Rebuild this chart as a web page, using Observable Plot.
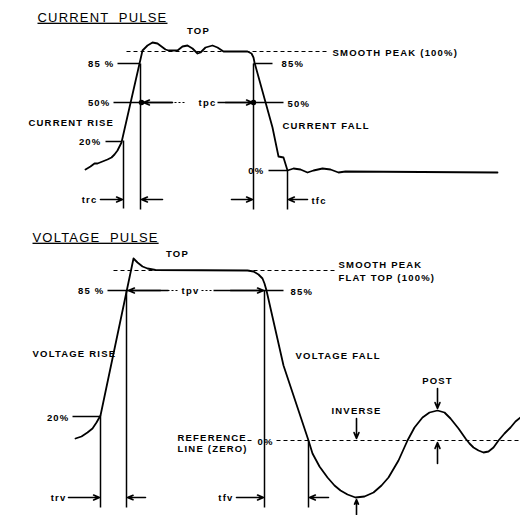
<!DOCTYPE html>
<html><head><meta charset="utf-8">
<script src="https://cdn.jsdelivr.net/npm/d3@7"></script>
<script src="https://cdn.jsdelivr.net/npm/@observablehq/plot@0.6"></script>
<style>
body{margin:0;background:#fff}
svg text{letter-spacing:1.2px}
</style>
</head><body><div id="chart"></div>
<script>
// Diagram units: x runs 0–520 left→right, y runs 0–515 top→bottom.
const currentWave = [[85,169],[90,166],[94,163],[97,163],[102,161],[107,159],[111,157],[114,154],[117,150],[119,146],[121,142],[142,50],[147,45],[152,42],[157,43],[161,46],[165,49],[168,50],[177,50],[182,46],[187,45],[192,48],[197,53],[200,52],[205,47],[212,45],[217,47],[223,51],[247,51],[251,53],[253,57],[254,62],[272,127],[278,156],[283,157],[287,170],[293,168],[300,169],[307,172],[313,170],[322,168],[330,169],[338,172],[345,171],[497,172]];
const voltageWave = [[75,438],[81,436],[87,432],[92,428],[96,422],[100,415],[133,258],[137,262],[142,266],[147,268],[155,269.5],[247,270],[253,271],[258,274],[262,278],[264,283],[266,290],[283,365],[303,425],[308,440],[312,453],[319,466],[327,477],[334,485],[340,490],[347,494],[355,497],[364,496],[373,492],[381,485],[388,477],[398,460],[407,440],[414,427],[422,417],[429,412],[437,410],[444,412],[450,418],[458,428],[465,438],[469,443],[473,447],[478,450],[483,452],[488,451],[493,447],[498,440],[504,433],[510,427],[515,421],[520,417]];

// time-marker verticals [x, yTop, yBottom]
const markerLines = [[140,63,209],[123,140,208],[253,63,209],[287,170,209],[126,290,507],[100,415,507],[264,290,507],[308,440,507]];
// level ticks [x1, x2, y]
const levelTicks = [[117,139,63],[113,172,102],[105,121,141],[253,272,63],[217,283,102],[268,287,170],[107,168,290],[213,283,290],[72,100,416]];
// dotted gaps next to the tp labels [x1, x2, y]
const dottedBits = [[174,186,102],[167,177,290],[201,211,290]];
// dashed reference levels [x1, x2, y]
const dashedLevels = [[126,327,51],[113,337,270],[233,252,440],[276,520,440]];
// arrows [x1, y1, x2, y2] (head at x2,y2)
const arrows = [[100,199,122,199],[162,199,141,199],[231,199,252,199],[307,199,288,199],[172,102,143,102],[225,102,252,102],
  [68,497,99,497],[145,497,127,497],[236,497,263,497],[328,497,309,497],[160,290,128,290],[230,290,263,290],
  [356,418,356,438],[356,514,356,499],[437,388,437,408],[437,463,437,442]];
const midDots = [[141,102],[253,102]];

const titles = [["CURRENT  PULSE",37,17],["VOLTAGE  PULSE",32,237]];
const labels = [
  ["TOP",198,30,"middle"],["SMOOTH PEAK (100%)",332,52,"start"],["85 %",114,63,"end"],["50%",110,102,"end"],
  ["tpc",207,102,"middle"],["CURRENT RISE",28,122,"start"],["20%",101,141,"end"],["trc",97,199,"end"],
  ["85%",281,63,"start"],["50%",287,103,"start"],["CURRENT FALL",282,125,"start"],["0%",264,170,"end"],["tfc",311,200,"start"],
  ["TOP",177,253,"middle"],["SMOOTH PEAK",338,264,"start"],["FLAT TOP (100%)",338,277,"start"],["85 %",104,290,"end"],
  ["tpv",190,290,"middle"],["85%",290,291,"start"],["VOLTAGE RISE",32,353,"start"],["VOLTAGE FALL",295,355,"start"],
  ["20%",69,417,"end"],["trv",66,497,"end"],["REFERENCE",177,437,"start"],["LINE (ZERO)",177,448,"start"],
  ["0%",257,441,"start"],["tfv",233,497,"end"],["INVERSE",356,410,"middle"],["POST",437,380,"middle"]
];

const font = "Liberation Sans, Arial, sans-serif";
const labelMark = anchor => Plot.text(labels.filter(d => d[3] === anchor), {
  x: d => d[1], y: d => d[2], text: d => d[0], textAnchor: anchor,
  fontSize: 9.5, fontWeight: "bold", fontFamily: font, fill: "black"
});
const chart = Plot.plot({
  width: 520, height: 515, margin: 0,
  x: {domain: [0, 520], axis: null},
  y: {domain: [0, 515], reverse: true, axis: null},
  marks: [
    Plot.link(dashedLevels, {x1: d => d[0], x2: d => d[1], y1: d => d[2], y2: d => d[2], stroke: "black", strokeWidth: 1.2, strokeDasharray: "4,3"}),
    Plot.link(dottedBits, {x1: d => d[0], x2: d => d[1], y1: d => d[2], y2: d => d[2], stroke: "black", strokeWidth: 1.2, strokeDasharray: "2,2"}),
    Plot.link(levelTicks, {x1: d => d[0], x2: d => d[1], y1: d => d[2], y2: d => d[2], stroke: "black", strokeWidth: 1.5}),
    Plot.link(markerLines, {x1: d => d[0], x2: d => d[0], y1: d => d[1], y2: d => d[2], stroke: "black", strokeWidth: 1.5}),
    Plot.arrow(arrows, {x1: d => d[0], y1: d => d[1], x2: d => d[2], y2: d => d[3], stroke: "black", strokeWidth: 1.6, headLength: 6, headAngle: 45}),
    Plot.line(currentWave, {x: d => d[0], y: d => d[1], stroke: "black", strokeWidth: 1.8}),
    Plot.line(voltageWave, {x: d => d[0], y: d => d[1], stroke: "black", strokeWidth: 1.8}),
    Plot.dot(midDots, {x: d => d[0], y: d => d[1], r: 2.8, fill: "black"}),
    labelMark("start"), labelMark("middle"), labelMark("end"),
    Plot.text(titles, {x: d => d[1], y: d => d[2], text: d => d[0], textAnchor: "start", fontSize: 13, fontFamily: font, fill: "black"})
  ]
});
d3.select(chart).selectAll("text").filter(function(){ return /PULSE/.test(this.textContent); })
  .style("text-decoration", "underline").style("white-space", "pre").style("letter-spacing", "1.2px");
document.getElementById("chart").appendChild(chart);
</script>
</body></html>
